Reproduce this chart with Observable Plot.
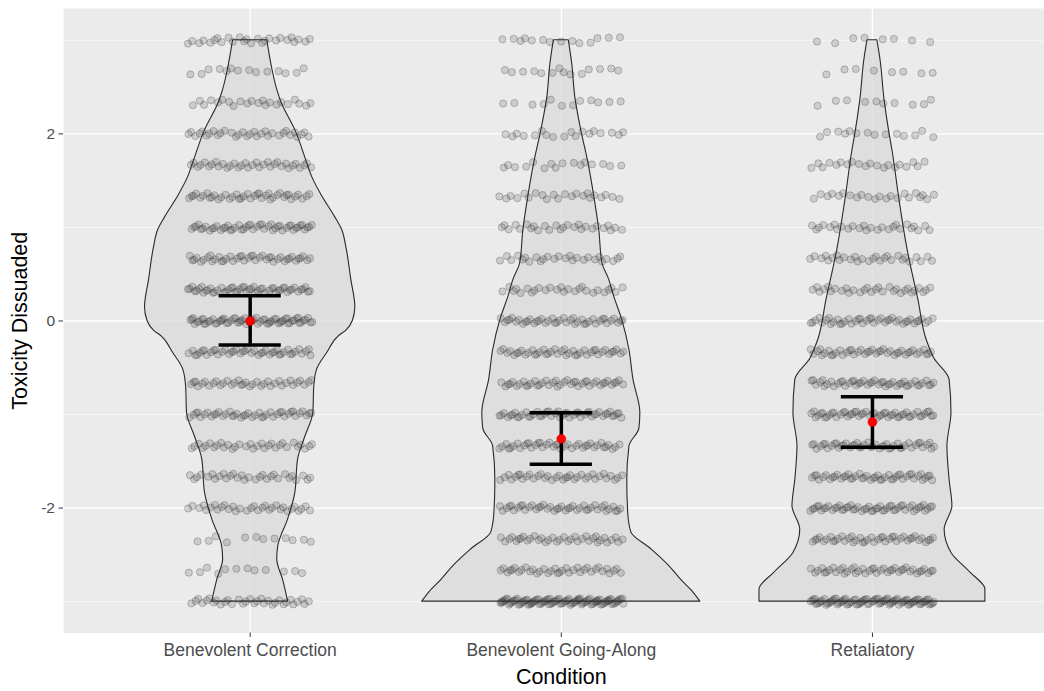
<!DOCTYPE html>
<html>
<head>
<meta charset="utf-8">
<script src="https://cdn.jsdelivr.net/npm/d3@7"></script>
<script src="https://cdn.jsdelivr.net/npm/@observablehq/plot@0.6"></script>
<style>
  html, body { margin: 0; padding: 0; background: #ffffff; }
  #chart { width: 1044px; height: 691px; overflow: hidden; }
</style>
</head>
<body>
<div id="chart"></div>
<script>
// ---- Data ----
const conditions = ["Benevolent Correction", "Benevolent Going-Along", "Retaliatory"];
const levels = [3, 2.667, 2.333, 2, 1.667, 1.333, 1, 0.667, 0.333, 0, -0.333, -0.667, -1, -1.333, -1.667, -2, -2.333, -2.667, -3];

// approximate number of responses at each level (top to bottom)
const countsCorrection = [26, 14, 22, 32, 34, 40, 48, 42, 52, 64, 44, 36, 42, 32, 30, 32, 12, 12, 32];
const countsGoingAlong = [14, 14, 12, 18, 16, 22, 26, 26, 26, 42, 42, 42, 48, 40, 36, 42, 36, 36, 95];
const countsRetaliatory = [8, 8, 10, 14, 20, 22, 26, 28, 30, 42, 42, 46, 52, 46, 46, 52, 42, 42, 85];

// violin profiles: y value and half width (in category units)
const violinYCorrection = [3.00, 2.68, 2.47, 2.34, 2.04, 1.69, 1.54, 1.33, 1.11, 0.97, 0.79, 0.44, 0.15, 0.00, -0.10, -0.17, -0.34, -0.52, -0.70, -0.98, -1.24, -1.48, -1.84, -2.12, -2.41, -2.55, -2.77, -3.00];
const violinWCorrection = [0.055, 0.072, 0.087, 0.100, 0.145, 0.183, 0.199, 0.232, 0.273, 0.296, 0.309, 0.325, 0.338, 0.330, 0.310, 0.283, 0.248, 0.215, 0.206, 0.203, 0.177, 0.154, 0.145, 0.122, 0.090, 0.087, 0.106, 0.122];
const violinYGoingAlong = [3.00, 2.75, 2.39, 2.04, 1.69, 1.33, 0.97, 0.62, 0.44, 0.26, 0.01, -0.31, -0.63, -0.98, -1.15, -1.34, -1.70, -2.05, -2.26, -2.44, -2.62, -2.77, -2.90, -3.00];
const violinWGoingAlong = [0.024, 0.035, 0.045, 0.064, 0.087, 0.106, 0.122, 0.132, 0.154, 0.170, 0.196, 0.219, 0.232, 0.254, 0.251, 0.219, 0.212, 0.215, 0.225, 0.289, 0.347, 0.386, 0.424, 0.447];
const violinYRetaliatory = [3.00, 2.79, 2.36, 2.00, 1.83, 1.29, 0.76, 0.22, -0.20, -0.40, -0.63, -0.98, -1.34, -1.70, -1.98, -2.23, -2.48, -2.69, -2.87, -3.00];
const violinWRetaliatory = [0.016, 0.026, 0.039, 0.055, 0.064, 0.087, 0.113, 0.148, 0.174, 0.199, 0.248, 0.254, 0.241, 0.248, 0.257, 0.232, 0.254, 0.315, 0.363, 0.363];

// means with confidence intervals
const means = [0.0, -1.26, -1.08];
const lower = [-0.256, -1.53, -1.35];
const upper = [0.27, -0.98, -0.81];

const yTicks = [-2, 0, 2];

// ---- Build tables ----
const counts = [countsCorrection, countsGoingAlong, countsRetaliatory];
const violinYs = [violinYCorrection, violinYGoingAlong, violinYRetaliatory];
const violinWs = [violinWCorrection, violinWGoingAlong, violinWRetaliatory];

const violins = [];
violinYs.forEach((ys, c) => ys.forEach((y, i) => violins.push({cond: c + 1, y, w: violinWs[c][i]})));

// deterministic jitter layout (width 0.2 each side, small vertical jitter)
const points = [];
counts.forEach((arr, c) => {
  arr.forEach((n, j) => {
    for (let k = 0; k < n; k++) {
      const u = (k * 0.6180339887 + j * 0.3117 + c * 0.173) % 1;
      const v = (k * 0.4142135624 + j * 0.5698 + c * 0.41) % 1;
      points.push({x: c + 1 + (u - 0.5) * 0.4, y: levels[j] + (v - 0.5) * 0.07});
    }
  });
});

const summary = conditions.map((name, i) => ({x: i + 1, mean: means[i], lo: lower[i], hi: upper[i]}));

const font = "'Liberation Sans', Arial, sans-serif";

const chart = Plot.plot({
  width: 1044,
  height: 691,
  marginLeft: 63,
  marginRight: 0,
  marginTop: 8,
  marginBottom: 58.5,
  style: {background: "#ffffff", fontFamily: font},
  x: {type: "linear", domain: [0.4, 3.553], axis: null},
  y: {domain: [-3.335, 3.34], axis: null},
  marks: [
    Plot.frame({fill: "#EBEBEB", stroke: null}),
    Plot.gridY([-3, -1, 1, 3], {stroke: "#ffffff", strokeOpacity: 1, strokeWidth: 0.6}),
    Plot.gridY(yTicks, {stroke: "#ffffff", strokeOpacity: 1, strokeWidth: 1.3}),
    Plot.gridX([1, 2, 3], {stroke: "#ffffff", strokeOpacity: 1, strokeWidth: 1.3}),
    ...[1, 2, 3].map(c => Plot.areaX(violins.filter(d => d.cond === c), {
      y: "y", x1: d => d.cond - d.w, x2: d => d.cond + d.w,
      curve: "monotone-y", fill: "#dadada", fillOpacity: 0.75, stroke: "#2a2a2a", strokeWidth: 1.1
    })),
    Plot.dot(points, {x: "x", y: "y", r: 3.6, fill: "#333333", fillOpacity: 0.17, stroke: "#333333", strokeOpacity: 0.28, strokeWidth: 1}),
    Plot.ruleX(summary, {x: "x", y1: "lo", y2: "hi", stroke: "#000000", strokeWidth: 3.5}),
    Plot.ruleY(summary, {y: "lo", x1: d => d.x - 0.1, x2: d => d.x + 0.1, stroke: "#000000", strokeWidth: 3.5}),
    Plot.ruleY(summary, {y: "hi", x1: d => d.x - 0.1, x2: d => d.x + 0.1, stroke: "#000000", strokeWidth: 3.5}),
    Plot.dot(summary, {x: "x", y: "mean", r: 4.5, fill: "#ff0000", stroke: "#cc0000", strokeWidth: 0.5}),
    Plot.axisY({ticks: yTicks, tickSize: 4.5, tickPadding: 4, stroke: "#333333", color: "#4d4d4d", fontSize: 15.5, label: null, tickFormat: d => d}),
    Plot.axisX({ticks: [1, 2, 3], tickSize: 4.5, tickPadding: 6, stroke: "#333333", color: "#4d4d4d", fontSize: 17.5, label: null, tickFormat: i => conditions[i - 1]}),
    Plot.text(["Toxicity Dissuaded"], {frameAnchor: "left", textAnchor: "middle", rotate: -90, dx: -43, fontSize: 21.5, fill: "#000000"}),
    Plot.text(["Condition"], {x: [2], frameAnchor: "bottom", textAnchor: "middle", dy: 51, fontSize: 21.5, fill: "#000000"})
  ]
});
document.getElementById("chart").appendChild(chart);
</script>
</body>
</html>
